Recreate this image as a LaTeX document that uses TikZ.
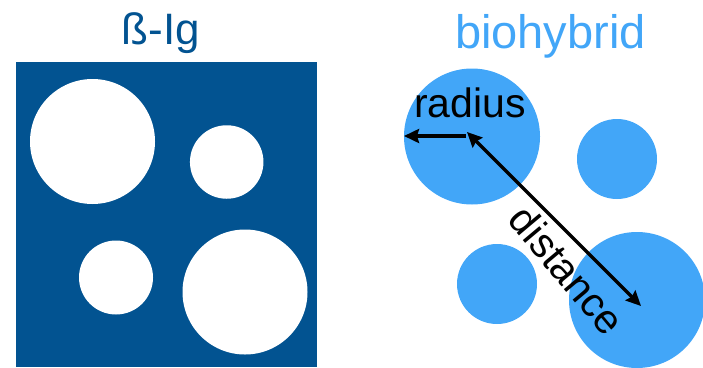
\documentclass[tikz,border=0pt]{standalone}
\usepackage{fontspec}
\setmainfont{Liberation Sans}
\usetikzlibrary{arrows.meta}
\definecolor{darkblue}{RGB}{2,83,145}
\definecolor{lightblue}{RGB}{66,166,248}
\begin{document}
\begin{tikzpicture}[x=1pt,y=-1pt,
  hole/.style={circle,fill=white,inner sep=0pt,minimum size=#1},
  blob/.style={circle,fill=lightblue,inner sep=0pt,minimum size=#1},
  arr/.style={line width=3.5pt,-{Stealth[length=15pt,width=14pt,inset=2pt]}},
  darr/.style={line width=3.5pt,{Stealth[length=15pt,width=14pt,inset=2pt]}-{Stealth[length=15pt,width=14pt,inset=2pt]}}]
\useasboundingbox (0,0) rectangle (703,367);
% left panel
\node[anchor=base,text=darkblue,font=\fontsize{44}{50}\selectfont] (t1) at (161,44) {ß-Ig};
\fill[darkblue] (16,62) rectangle (317,367);
\node[hole=125pt] (h1) at (92.5,141.5) {};
\node[hole=73.5pt] (h2) at (226.7,162) {};
\node[hole=74pt] (h3) at (116,277.5) {};
\node[hole=125pt] (h4) at (245,292) {};
% right panel
\node[anchor=base,text=lightblue,font=\fontsize{47}{54}\selectfont] (t2) at (550.5,48) {biohybrid};
\node[blob=136pt] (b1) at (472,136.5) {};
\node[blob=80pt] (b2) at (617,159) {};
\node[blob=80pt] (b3) at (497,284) {};
\node[blob=136pt] (b4) at (637,300) {};
\node[anchor=base,font=\fontsize{41}{48}\selectfont] (r) at (470,117) {radius};
\coordinate (c1) at (466,136);
\coordinate (e1) at (404,136);
\coordinate (c2) at (467,132);
\coordinate (e2) at (641,306);
\draw[arr] (c1) -- (e1);
\draw[darr] (c2) -- (e2);
\node[rotate=-50,font=\fontsize{41}{48}\selectfont] (d) at (567,270) {distance};
\end{tikzpicture}
\end{document}
